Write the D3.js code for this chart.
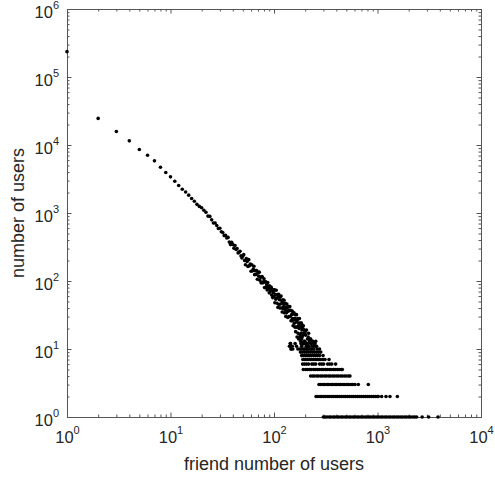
<!DOCTYPE html>
<html lang="en">
<head>
<meta charset="UTF-8">
<title>friend number of users</title>
<script src="https://d3js.org/d3.v7.min.js"></script>
<style>
  body { margin: 0; background: #fff; }
  svg text { font-family: "Liberation Sans", Arial, sans-serif; fill: #262626; }
  .axis path, .axis line { stroke: #555; stroke-width: 1; }
</style>
</head>
<body>
<svg id="chart" width="495" height="480"></svg>
<script>
// number of users per friend number; friend number = index + 1 (1..200)
const headCounts = [
  236000, 24600, 15800, 11500, 8600, 7050, 5850, 4700, 3950, 3400,
  2930, 2540, 2230, 2040, 1830, 1630, 1490, 1340, 1250, 1195,
  1100, 1025, 900, 892, 793, 714, 712, 654, 593, 597,
  531, 516, 465, 470, 430, 438, 373, 343, 370, 345,
  304, 333, 291, 300, 259, 266, 273, 234, 218, 233,
  244, 200, 173, 213, 194, 164, 206, 168, 177, 139,
  173, 141, 150, 165, 124, 142, 125, 143, 106, 132,
  118, 135, 103, 114, 94, 116, 115, 94, 97, 108,
  80, 97, 97, 80, 88, 74, 95, 78, 84, 67,
  84, 71, 75, 81, 62, 74, 57, 68, 74, 59,
  74, 48, 64, 54, 73, 56, 47, 63, 41, 58,
  64, 45, 53, 40, 58, 46, 60, 40, 51, 35,
  47, 53, 39, 42, 52, 34, 46, 38, 47, 30,
  41, 34, 46, 36, 41, 29, 36, 42, 30, 37,
  11, 42, 30, 12, 37, 26, 10, 32, 26, 36,
  28, 33, 22, 33, 27, 34, 24, 28, 21, 28,
  32, 18, 27, 21, 32, 25, 15, 27, 21, 28,
  17, 22, 14, 24, 20, 28, 15, 21, 16, 24,
  13, 21, 17, 24, 14, 19, 15, 22, 12, 20,
  16, 22, 12, 17, 13, 19, 10, 17, 13, 18
];

// scattered points just past the head
const extraDegrees = [202, 204, 206, 209, 211, 214, 216, 218, 221, 223, 226, 228, 231, 234, 237, 240, 244, 249, 253, 258];
const extraCounts  = [16, 12, 19, 10, 14, 15, 17, 11, 13, 14, 14, 12, 10, 13, 13, 11, 12, 12, 13, 11];

// low counts form rows: friend numbers that have exactly that many users
const rowCounts = [1, 2, 3, 4, 5, 6, 7, 8, 9, 10, 11, 12];
const rowDegrees = [
  [300, 311, 325, 342, 355, 373, 388, 408, 424, 445, 463, 487, 506, 531, 552, 580, 604, 635, 660, 693,
   721, 757, 788, 827, 861, 904, 940, 987, 1028, 1079, 1122, 1178, 1226, 1288, 1340, 1407, 1465, 1537,
   1600, 1680, 1748, 1836, 1910, 2006, 2088, 2193, 2290, 2390, 2700, 3120, 3840],
  [255, 265, 279, 289, 304, 316, 332, 345, 363, 377, 396, 412, 433, 450, 473, 492, 516, 537, 564, 587,
   616, 641, 672, 701, 734, 766, 802, 836, 876, 914, 957, 1000, 1018, 1097, 1208, 1320, 1555],
  [272, 283, 298, 310, 326, 338, 356, 370, 389, 404, 425, 442, 464, 483, 507, 528, 554, 577, 606, 653, 815],
  [226, 237, 246, 259, 269, 283, 294, 309, 321, 338, 351, 369, 384, 403, 420, 441, 459, 482, 502, 526, 542],
  [192, 202, 209, 220, 228, 241, 250, 263, 273, 287, 298, 314, 326, 343, 356, 375, 390, 409, 426, 447, 457],
  [189, 197, 206, 216, 232, 242, 253, 276, 289, 302, 330, 345, 362, 394],
  [190, 199, 208, 217, 227, 238, 249, 260, 272, 284, 297, 311, 340],
  [185, 194, 203, 212, 221, 231, 242, 253, 264, 276, 298],
  [180, 188, 197, 206, 215, 225, 236, 247, 258, 270, 283],
  [146, 152, 170, 178, 186, 194, 203, 213, 222, 232, 243, 262, 275],
  [150, 165, 185, 205, 215, 235, 250],
  [144, 160, 182, 195, 212, 228, 245]
];

const xTicks = [1, 10, 100, 1000, 10000];
const yTicks = [1, 10, 100, 1000, 10000, 100000, 1000000];

const svg = d3.select("#chart");
const plotLeft = 67, plotRight = 481, plotTop = 9, plotBottom = 417;

const x = d3.scaleLog().domain([1, 10000]).range([plotLeft, plotRight]);
const y = d3.scaleLog().domain([1, 1000000]).range([plotBottom, plotTop]);

// minor ticks 2..9 in every decade
function minorTicks(lo, hi) {
  const out = [];
  for (let p = lo; p < hi; p *= 10) {
    for (let k = 2; k <= 9; k++) out.push(p * k);
  }
  return out;
}
const xMinor = minorTicks(1, 10000);
const yMinor = minorTicks(1, 1000000);

// flatten all points
const points = headCounts.map((c, i) => ({fx: i + 1, n: c}));
extraDegrees.forEach((d, i) => points.push({fx: d, n: extraCounts[i]}));
rowDegrees.forEach((list, r) => list.forEach(d => points.push({fx: d, n: rowCounts[r]})));

// box with inward ticks on all four sides
function addAxis(axisFn, scale, pos, values, size) {
  return svg.append("g")
    .attr("class", "axis")
    .attr("transform", pos)
    .call(axisFn(scale).tickValues(values).tickSizeInner(size).tickSizeOuter(0).tickFormat(""));
}
addAxis(d3.axisBottom, x, `translate(0,${plotBottom})`, xMinor, -2.5);
addAxis(d3.axisTop, x, `translate(0,${plotTop})`, xMinor, -2.5);
addAxis(d3.axisLeft, y, `translate(${plotLeft},0)`, yMinor, -2.5);
addAxis(d3.axisRight, y, `translate(${plotRight},0)`, yMinor, -2.5);
const xAxis = addAxis(d3.axisBottom, x, `translate(0,${plotBottom})`, xTicks, -4.5);
addAxis(d3.axisTop, x, `translate(0,${plotTop})`, xTicks, -4.5);
const yAxis = addAxis(d3.axisLeft, y, `translate(${plotLeft},0)`, yTicks, -4.5);
addAxis(d3.axisRight, y, `translate(${plotRight},0)`, yTicks, -4.5);

// 10^n tick labels
function powLabel(text, v) {
  text.text(null).attr("font-size", "16.5px");
  text.append("tspan").text("10");
  text.append("tspan").attr("dy", -9).attr("font-size", "11px").text(Math.round(Math.log10(v)));
}
xAxis.selectAll(".tick").append("text")
  .attr("text-anchor", "middle")
  .attr("y", 26)
  .each(function(v) { powLabel(d3.select(this), v); });
yAxis.selectAll(".tick").append("text")
  .attr("text-anchor", "end")
  .attr("x", -8)
  .attr("y", 8)
  .each(function(v) { powLabel(d3.select(this), v); });

// data points
svg.append("g")
  .selectAll("circle")
  .data(points)
  .join("circle")
  .attr("cx", d => x(d.fx))
  .attr("cy", d => y(d.n))
  .attr("r", 1.8)
  .attr("fill", "#000");

// axis titles
svg.append("text")
  .attr("x", (plotLeft + plotRight) / 2)
  .attr("y", 470)
  .attr("text-anchor", "middle")
  .attr("font-size", "18px")
  .text("friend number of users");

svg.append("text")
  .attr("transform", `translate(24,${(plotTop + plotBottom) / 2}) rotate(-90)`)
  .attr("text-anchor", "middle")
  .attr("font-size", "18px")
  .text("number of users");
</script>
</body>
</html>
